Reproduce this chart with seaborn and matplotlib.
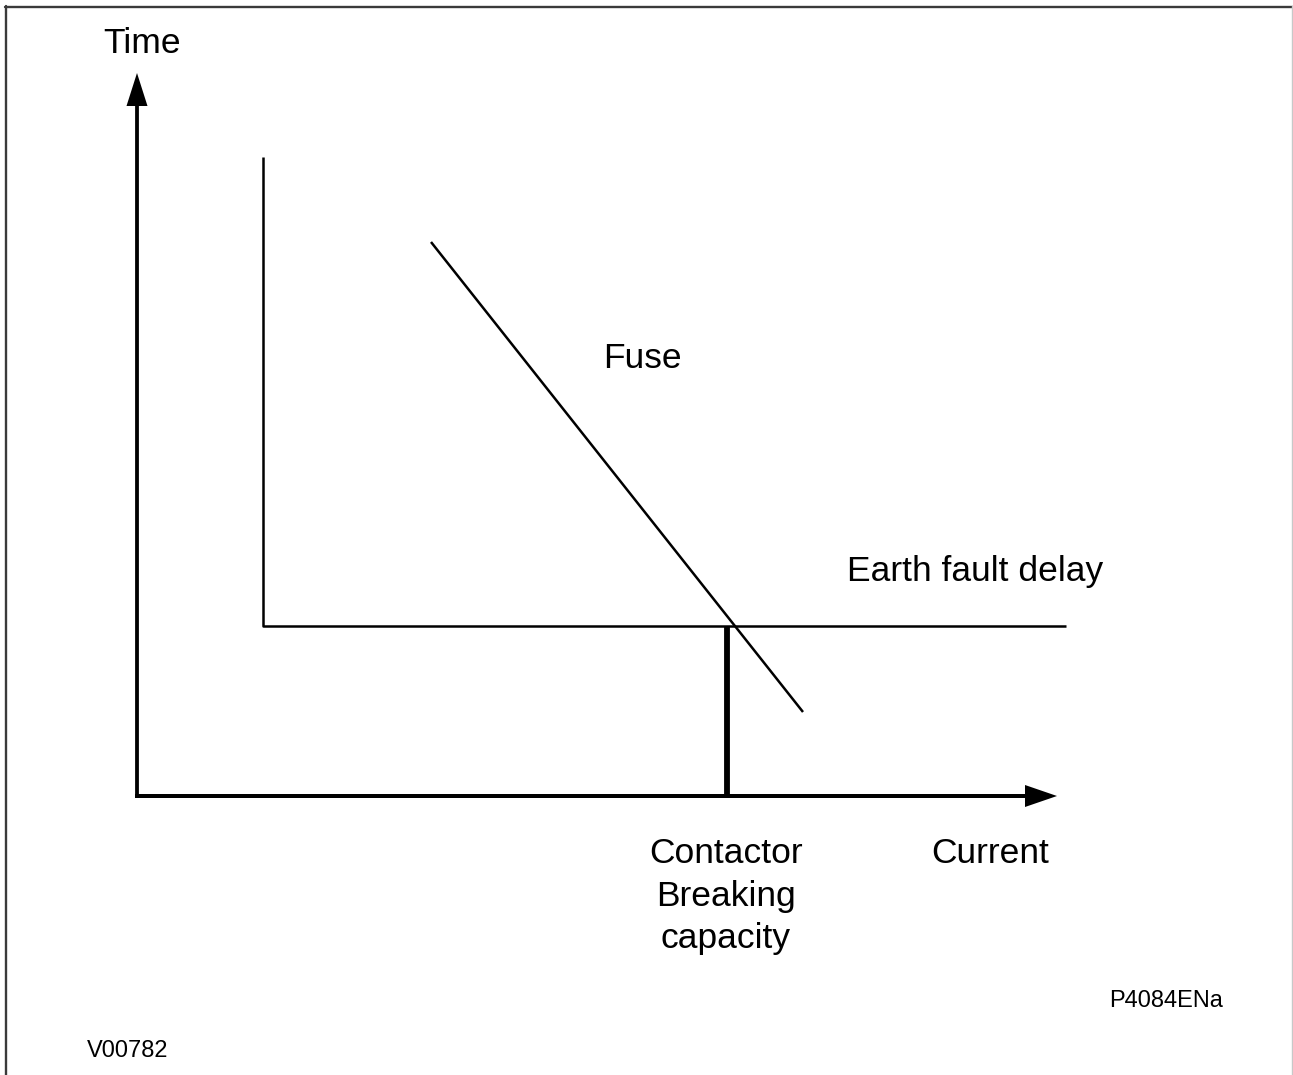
import matplotlib
matplotlib.use("Agg")
import matplotlib.pyplot as plt
import seaborn as sns
from matplotlib.lines import Line2D

sns.set_theme(style="white")
plt.rcParams['font.family'] = ['Liberation Sans', 'DejaVu Sans']
plt.rcParams['text.color'] = 'black'

# Schematic units: origin at the axes corner, one unit per pixel
time_axis_top = 723
current_axis_end = 920

# Earth fault delay characteristic (definite time)
ef_current = [126, 126, 929]
ef_time = [639, 170, 170]

# Fuse characteristic
fuse_current = [294, 666]
fuse_time = [554, 84]

# Contactor breaking capacity limit
contactor_current = [590, 590]
contactor_time = [0, 170]

W, H = 1293, 1075
fig = plt.figure(figsize=(W / 100, H / 100), dpi=100)
ax = fig.add_axes([0, 0, 1, 1])
ax.set_xlim(-137, W - 137)
ax.set_ylim(796 - H, 796)
ax.axis('off')

# Axes with arrowheads; each shaft starts half a stroke past the origin
# so the corner closes cleanly
half = 2
ax.arrow(0, -half, 0, time_axis_top + half, width=3.8, head_width=21,
         head_length=33, length_includes_head=True, fc='black', ec='none')
ax.arrow(-half, 0, current_axis_end + half, 0, width=4, head_width=22,
         head_length=32, length_includes_head=True, fc='black', ec='none')

line_kw = dict(ax=ax, color='black', estimator=None, sort=False, legend=False)
sns.lineplot(x=ef_current, y=ef_time, lw=1.8, **line_kw)
sns.lineplot(x=fuse_current, y=fuse_time, lw=1.8, **line_kw)
sns.lineplot(x=contactor_current, y=contactor_time, lw=4.2, **line_kw)
for ln in ax.get_lines():
    ln.set_solid_capstyle('butt')

fs = 25.5
ax.text(5.5, 743, 'Time', fontsize=fs, ha='center', va='baseline')
ax.text(466, 428, 'Fuse', fontsize=fs, ha='left', va='baseline')
ax.text(710, 215, 'Earth fault delay', fontsize=fs, ha='left', va='baseline')
ax.text(589, -152, 'Contactor\nBreaking\ncapacity', fontsize=fs, ha='center',
        va='baseline', multialignment='center', linespacing=1.36)
ax.text(794, -67, 'Current', fontsize=fs, ha='left', va='baseline')
ax.text(972, -211, 'P4084ENa', fontsize=17, ha='left', va='baseline')
ax.text(-50, -261, 'V00782', fontsize=17, ha='left', va='baseline')

# Frame around the figure
fig.add_artist(Line2D([5 / W, 1.0], [1 - 6.5 / H, 1 - 6.5 / H],
                      transform=fig.transFigure, color='#3a3a3a', lw=1.7))
fig.add_artist(Line2D([5.5 / W, 5.5 / W], [0, 1 - 6 / H],
                      transform=fig.transFigure, color='#3a3a3a', lw=1.7))
fig.add_artist(Line2D([1292.3 / W, 1292.3 / W], [0, 1 - 6 / H],
                      transform=fig.transFigure, color='#c8c8c8', lw=1.0))

fig.savefig('out.png', dpi=100, facecolor='white')
